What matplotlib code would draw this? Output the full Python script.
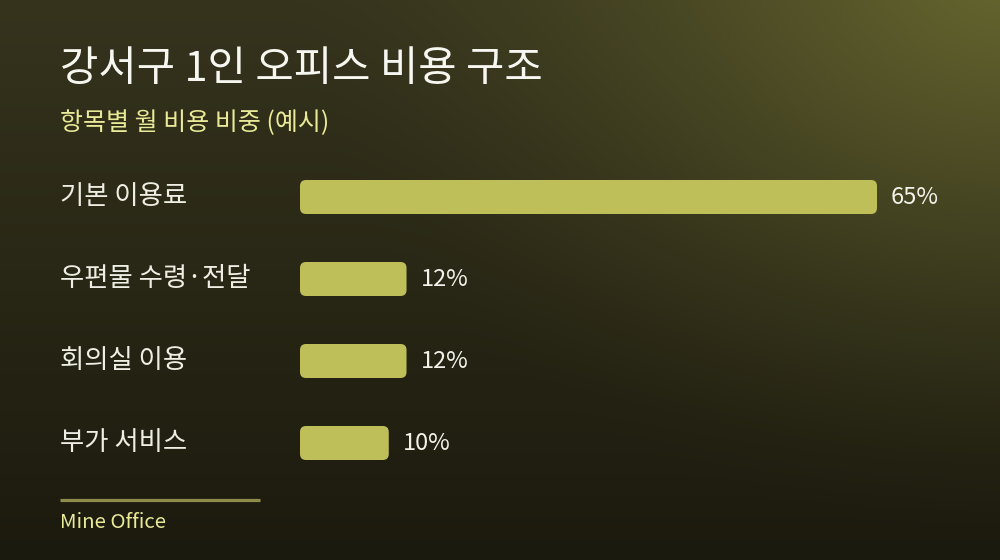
import matplotlib
matplotlib.use("Agg")
import matplotlib.pyplot as plt
from matplotlib.patches import FancyBboxPatch
import numpy as np

plt.rcParams['font.family'] = ['Noto Sans CJK KR', 'DejaVu Sans']

# data
categories = ["기본 이용료", "우편물 수령·전달", "회의실 이용", "부가 서비스"]
shares = [65, 12, 12, 10]
value_labels = ["65%", "12%", "12%", "10%"]

title = "강서구 1인 오피스 비용 구조"
subtitle = "항목별 월 비용 비중 (예시)"
footer = "Mine Office"

W, H = 1000, 560
fig = plt.figure(figsize=(W / 100, H / 100), dpi=100)

# background: dark olive gradient with a glow in the upper right
bg = fig.add_axes([0, 0, 1, 1])
yy, xx = np.mgrid[0:H, 0:W]
top = np.array([0x36, 0x34, 0x1d]) / 255
bottom = np.array([0x1b, 0x1a, 0x0e]) / 255
t = (yy / H)[..., None]
img = top * (1 - t) + bottom * t
glow = np.array([0x68, 0x68, 0x30]) / 255
d = np.sqrt((xx - 1010) ** 2 + ((yy + 40) * 1.25) ** 2)
g = np.clip(1 - d / 720, 0, 1) ** 1.5
img = img * (1 - g[..., None]) + glow * g[..., None]
bg.imshow(img, extent=[0, W, H, 0], aspect='auto')
bg.set_xlim(0, W)
bg.set_ylim(H, 0)
bg.axis('off')


def px(x, y):
    return x / W, 1 - y / H


# bar axes: rows centred at y = 197 .. 443 px, zero at x = 300 px
ax = fig.add_axes([0.30, 1 - 484 / H, 0.70, 328 / H])
ax.set_facecolor('none')
xmax = 65 * 700 / 577
ax.set_xlim(0, xmax)
ax.set_ylim(3.5, -0.5)
ax.axis('off')

bar_h = 34 / 82
bars = ax.barh(range(len(categories)), shares, height=bar_h, color='#bfbf5a')
x_unit = 700 / xmax  # px per x unit
y_unit = 82          # px per y unit
for b in bars:
    x0, y0, w, h = b.get_x(), b.get_y(), b.get_width(), b.get_height()
    b.remove()
    ax.add_patch(FancyBboxPatch((x0, y0), w, h,
                                boxstyle="round,pad=0,rounding_size=%f" % (6 / x_unit),
                                mutation_aspect=x_unit / y_unit,
                                fc='#bfbf5a', ec='none'))

for i, (v, lab) in enumerate(zip(shares, value_labels)):
    ax.text(v + 14 / x_unit, i, lab, va='center', ha='left',
            fontsize=17, color='#f2f2ea')

for i, c in enumerate(categories):
    fig.text(*px(60, 196 + 82 * i), c, va='center', ha='left',
             fontsize=19, color='#eeeee4')

fig.text(*px(60, 70), title, va='center', ha='left',
         fontsize=30, color='#f7f7f2')
fig.text(*px(60, 123), subtitle, va='center', ha='left',
         fontsize=18, color='#e9ea98')

bg.plot([60, 260], [500, 500], color='#8e8c48', lw=2.3, solid_capstyle='butt')
fig.text(*px(60, 522), footer, va='center', ha='left',
         fontsize=14.7, color='#e9ea98')

fig.savefig('out.png', dpi=100)
